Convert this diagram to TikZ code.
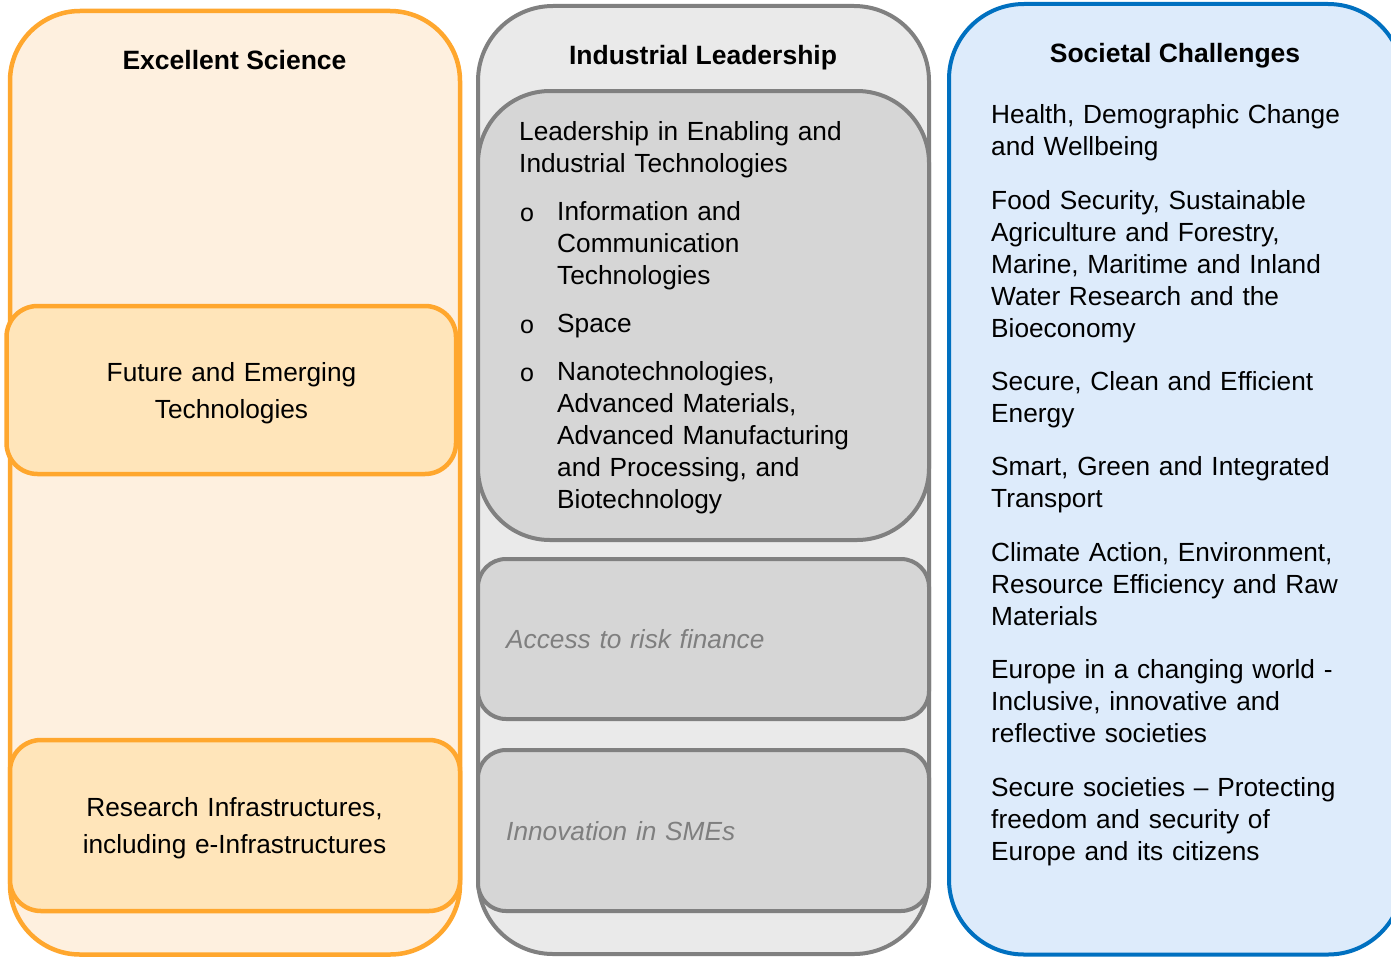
\documentclass[tikz,border=0pt]{standalone}
\usepackage{fontspec}
\setmainfont{Liberation Sans}
\definecolor{orline}{HTML}{FFA72E}
\definecolor{orfill}{HTML}{FEF0DF}
\definecolor{orin}{HTML}{FFE5BA}
\definecolor{grline}{HTML}{808080}
\definecolor{grfill}{HTML}{EAEAEA}
\definecolor{grin}{HTML}{D6D6D6}
\definecolor{blline}{HTML}{0070C0}
\definecolor{blfill}{HTML}{DDEBFB}
\definecolor{grtext}{HTML}{7F7F7F}
\begin{document}
\begin{tikzpicture}[x=1pt,y=-1pt,
  obig/.style={draw=orline,fill=orfill,line width=4.5pt,rounded corners=70pt},
  osmall/.style={draw=orline,fill=orin,line width=4.5pt,rounded corners=31pt},
  gbig/.style={draw=grline,fill=grfill,line width=4pt,rounded corners=75pt},
  gmid/.style={draw=grline,fill=grin,line width=4pt,rounded corners=72pt},
  gsmall/.style={draw=grline,fill=grin,line width=4pt,rounded corners=28pt},
  bbig/.style={draw=blline,fill=blfill,line width=4pt,rounded corners=75pt},
  body/.style={font=\fontsize{26.25}{32}\selectfont,inner sep=0pt,align=left,text width=380pt,anchor=base west},
  ctr/.style={font=\fontsize{26.25}{36.7}\selectfont,inner sep=0pt,align=center,text width=420pt,anchor=base},
  head/.style={font=\fontsize{26.5}{32}\selectfont\bfseries,inner sep=0pt,anchor=base},
  faint/.style={body,text=grtext,font=\fontsize{26.25}{32}\selectfont\itshape},
  bul/.style={font=\fontsize{25}{32}\selectfont,inner sep=0pt,anchor=base west}]
\useasboundingbox (0,0) rectangle (1391,958);
\clip (0,0) rectangle (1391,958);
\fill[white] (0,0) rectangle (1391,958);
% left column
\path[obig] (10,11) rectangle (460,954.5);
\path[osmall] (6.5,306) rectangle (456,474);
\path[osmall] (10,740) rectangle (460,911);
\node[head] (es) at (234.5,70) {Excellent Science};
\node[ctr] (fet) at (231.5,381.7) {Future and Emerging\\Technologies};
\node[ctr] (ri) at (234.5,816.7) {Research Infrastructures,\\including e-Infrastructures};
% middle column
\path[gbig] (478,6) rectangle (929,954);
\path[gmid] (478,91) rectangle (929,540);
\path[gsmall] (478,559) rectangle (929,719);
\path[gsmall] (478,750) rectangle (929,911);
\node[head] (il) at (703,65) {Industrial Leadership};
\node[body] (leit) at (519,140) {Leadership in Enabling and\\Industrial Technologies};
\node[bul] (b1) at (520,221) {o};
\node[body] (ict) at (557,220.7) {Information and\\Communication\\Technologies};
\node[bul] (b2) at (520,333) {o};
\node[body] (space) at (557,332.7) {Space};
\node[bul] (b3) at (520,381) {o};
\node[body] (nano) at (557,380.7) {Nanotechnologies,\\Advanced Materials,\\Advanced Manufacturing\\and Processing, and\\Biotechnology};
\node[faint] (arf) at (506,648) {Access to risk finance};
\node[faint] (sme) at (506,840) {Innovation in SMEs};
% right column
\path[bbig] (949,4) rectangle (1403,954.5);
\node[head] (sc) at (1175,63) {Societal Challenges};
\node[body] (c1) at (991,123.3) {Health, Demographic Change\\and Wellbeing};
\node[body] (c2) at (991,209) {Food Security, Sustainable\\Agriculture and Forestry,\\Marine, Maritime and Inland\\Water Research and the\\Bioeconomy};
\node[body] (c3) at (991,390) {Secure, Clean and Efficient\\Energy};
\node[body] (c4) at (991,475.5) {Smart, Green and Integrated\\Transport};
\node[body] (c5) at (991,561) {Climate Action, Environment,\\Resource Efficiency and Raw\\Materials};
\node[body] (c6) at (991,678) {Europe in a changing world -\\Inclusive, innovative and\\reflective societies};
\node[body] (c7) at (991,796.3) {Secure societies – Protecting\\freedom and security of\\Europe and its citizens};
\end{tikzpicture}
\end{document}
